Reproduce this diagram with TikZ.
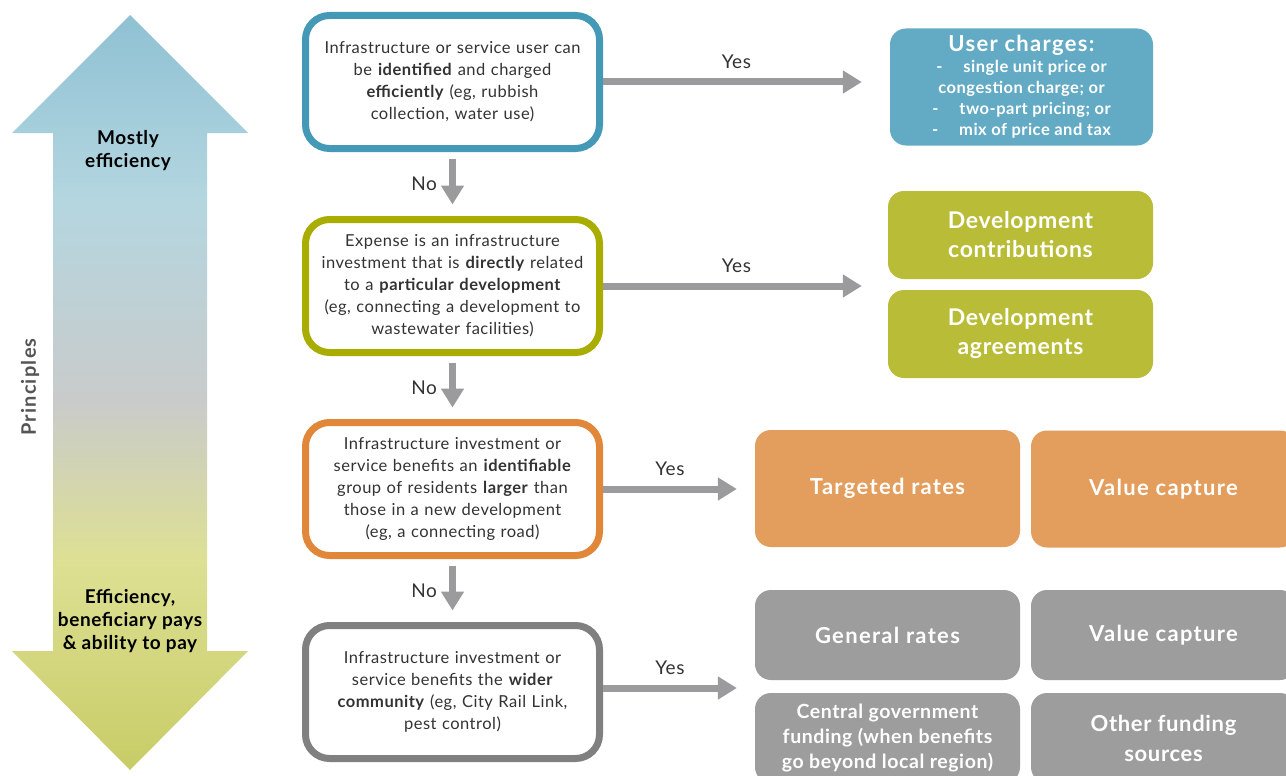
\documentclass[tikz,border=0pt]{standalone}
\usepackage{fontspec}
\setmainfont{Lato}[LetterSpace=3]
\newfontfamily\widefont{Lato}[LetterSpace=6]
\usetikzlibrary{arrows.meta}
\definecolor{cBlue}{HTML}{4499B6}
\definecolor{fBlue}{HTML}{63ABC5}
\definecolor{cOlive}{HTML}{A8AD00}
\definecolor{fOlive}{HTML}{B9BC37}
\definecolor{cOrange}{HTML}{E0873A}
\definecolor{fOrange}{HTML}{E39D5C}
\definecolor{cGray}{HTML}{808081}
\definecolor{fGray}{HTML}{9E9D9D}
\definecolor{arrgray}{HTML}{9B9B9D}
\definecolor{txt}{HTML}{333333}
\definecolor{princtxt}{HTML}{555555}
\definecolor{gTop}{HTML}{8FC1D3}
\definecolor{gLight}{HTML}{B4D6E0}
\definecolor{gGray}{HTML}{C9CBCB}
\definecolor{gYel}{HTML}{DDE093}
\definecolor{gBot}{HTML}{C8CC66}
\pgfdeclareverticalshading{princ}{100bp}{color(0bp)=(gBot); color(25bp)=(gBot); color(38.9bp)=(gYel); color(49.5bp)=(gGray); color(62.75bp)=(gLight); color(75bp)=(gTop); color(100bp)=(gTop)}
\tikzset{
  dec/.style={draw, line width=7pt, rounded corners=24pt, fill=white, minimum width=294pt, minimum height=133pt, inner sep=0pt, align=center, text width=288pt, font=\fontsize{16.5}{22}\selectfont, text=txt},
  res/.style={rounded corners=16pt, inner sep=0pt, align=center, text=white, font=\bfseries\fontsize{23}{29}\selectfont, minimum width=265pt},
  flow/.style={draw=arrgray, line width=7pt, -{Triangle[width=22pt,length=19pt]}},
  lab/.style={font=\fontsize{19}{20}\selectfont, text=txt, inner sep=0pt},
  side/.style={font=\bfseries\fontsize{19}{23}\selectfont, text=black, align=center, inner sep=0pt},
}
\begin{document}
\begin{tikzpicture}[x=1pt,y=-1pt]
\clip (0,0) rectangle (1286,776);
\fill[white] (0,0) rectangle (1286,776);

% principles double arrow
\shade[shading=princ] (130,15) -- (248,133) -- (207,133) -- (207,651) -- (248,651) -- (130,770) -- (12,651) -- (53,651) -- (53,133) -- (12,133) -- cycle;
\node[side] (most) at (128,151) {Mostly\\efficiency};
\node[side] (eff) at (130,621) {Efficiency,\\beneficiary pays\\\& ability to pay};
\node[font=\bfseries\widefont\fontsize{20}{22}\selectfont, text=princtxt, rotate=90, inner sep=0pt] (princ) at (30,387) {Principles};

% decision boxes
\node[dec, draw=cBlue] (d1) at (452.5,82) {Infrastructure or service user can\\be \textbf{identified} and charged\\\textbf{efficiently} (eg, rubbish\\collection, water use)};
\node[dec, draw=cOlive] (d2) at (452.5,286) {Expense is an infrastructure\\investment that is \textbf{directly} related\\to a \textbf{particular development}\\(eg, connecting a development to\\wastewater facilities)};
\node[dec, draw=cOrange] (d3) at (452.5,489) {Infrastructure investment or\\service benefits an \textbf{identifiable}\\group of residents \textbf{larger} than\\those in a new development\\(eg, a connecting road)};
\node[dec, draw=cGray] (d4) at (452.5,692) {Infrastructure investment or\\service benefits the \textbf{wider}\\\textbf{community} (eg, City Rail Link,\\pest control)};

% result boxes
\node[res, fill=fBlue, minimum width=263pt, minimum height=117pt, font=\bfseries\fontsize{16.5}{21}\selectfont] (uc) at (1021.5,87) {{\widefont\bfseries\fontsize{22}{25}\selectfont User charges:}\\-\quad\ single unit price or\\congestion charge; or\\-\quad\ two-part pricing; or\\-\quad\ mix of price and tax};
\node[res, fill=fOlive, minimum height=88pt] (dc) at (1020.5,235) {Development\\contributions};
\node[res, fill=fOlive, minimum height=88pt] (da) at (1020.5,334) {Development\\agreements};
\node[res, fill=fOrange, minimum height=117pt, font=\widefont\bfseries\fontsize{22}{26}\selectfont] (tr) at (887.5,488.5) {Targeted rates};
\node[res, fill=fOrange, minimum height=117pt, font=\widefont\bfseries\fontsize{22}{26}\selectfont] (vc1) at (1163.5,489) {Value capture};
\node[res, fill=fGray, minimum height=90pt, font=\widefont\bfseries\fontsize{22}{26}\selectfont] (gr) at (887.5,635) {General rates};
\node[res, fill=fGray, minimum height=90pt, font=\widefont\bfseries\fontsize{22}{26}\selectfont] (vc2) at (1163.5,635) {Value capture};
\node[res, fill=fGray, minimum height=90pt, font=\bfseries\fontsize{19.5}{25}\selectfont] (cg) at (887.5,738) {Central government\\funding (when benefits\\go beyond local region)};
\node[res, fill=fGray, minimum height=90pt, font=\bfseries\fontsize{22}{30}\selectfont] (of) at (1163.5,738) {Other funding\\sources};

% No arrows
\draw[flow, shorten <=6.5pt, shorten >=11.5pt] (d1.south) -- node[lab, midway, left=12pt] {No} (d2.north);
\draw[flow, shorten <=6.5pt, shorten >=11.5pt] (d2.south) -- node[lab, midway, left=12pt] {No} (d3.north);
\draw[flow, shorten <=6.5pt, shorten >=11.5pt] (d3.south) -- node[lab, midway, left=12pt] {No} (d4.north);

% Yes arrows
\draw[flow] (d1.east) -- node[lab, midway, above=10pt, xshift=4pt] {Yes} ([xshift=-28pt]d1.east -| uc.west);
\draw[flow] (d2.east) -- node[lab, midway, above=10pt, xshift=4pt] {Yes} ([xshift=-26pt]d2.east -| dc.west);
\draw[flow] (d3.east) -- node[lab, midway, above=10pt] {Yes} ([xshift=-18pt]d3.east -| tr.west);
\draw[flow] ([yshift=4pt]d4.east) -- node[lab, midway, above=10pt] {Yes} ([xshift=-18pt,yshift=4pt]d4.east -| gr.west);
\end{tikzpicture}
\end{document}
